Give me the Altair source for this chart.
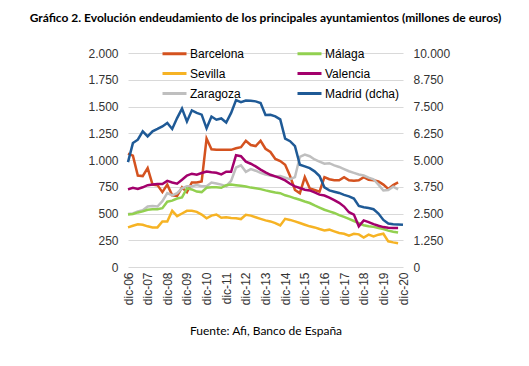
import json
import altair as alt
import pandas as pd

# Quarterly data, dic-06 (index 0) onwards
tick_labels = ["dic-06", "dic-07", "dic-08", "dic-09", "dic-10", "dic-11", "dic-12", "dic-13",
               "dic-14", "dic-15", "dic-16", "dic-17", "dic-18", "dic-19", "dic-20"]

barcelona = [1060, 1040, 855, 850, 925, 770, 765, 700, 770, 670,
             665, 745, 700, 790, 790, 800, 1200, 1100, 1095, 1095,
             1095, 1095, 1110, 1120, 1180, 1140, 1130, 1180, 1105, 1075,
             1010, 990, 955, 850, 720, 690, 840, 735, 720, 705,
             840, 820, 810, 810, 840, 810, 805, 810, 840, 815,
             810, 800, 770, 730, 765, 790]
sevilla = [370, 385, 400, 395, 380, 370, 370, 425, 425, 525,
           475, 500, 525, 525, 515, 490, 455, 480, 490, 460,
           465, 458, 455, 448, 488, 480, 465, 450, 436, 426,
           410, 388, 450, 440, 426, 411, 395, 380, 370, 355,
           342, 349, 333, 318, 311, 293, 311, 305, 275, 302,
           286, 302, 311, 240, 230, 222]
zaragoza = [495, 500, 520, 530, 565, 570, 565, 615, 690, 670,
            690, 735, 755, 755, 765, 755, 755, 790, 780, 770,
            755, 805, 930, 950, 890, 915, 900, 880, 865, 855,
            845, 850, 835, 820, 840, 1030, 1050, 1035, 1005, 985,
            965, 970, 950, 935, 915, 895, 880, 865, 855, 835,
            820, 770, 715, 720, 750, 725]
malaga = [490, 495, 510, 520, 535, 540, 540, 550, 610, 620,
          640, 650, 735, 725, 705, 700, 740, 745, 745, 740,
          765, 770, 765, 760, 753, 742, 735, 728, 716, 706,
          696, 690, 670, 658, 642, 628, 612, 598, 575, 555,
          535, 520, 505, 485, 468, 450, 430, 410, 390, 380,
          375, 365, 355, 340, 330, 322]
valencia = [725, 740, 730, 745, 765, 770, 775, 775, 805, 790,
            778, 815, 855, 872, 862, 878, 893, 885, 880, 865,
            890, 890, 1045, 1035, 985, 965, 940, 910, 885, 862,
            847, 831, 809, 778, 753, 738, 722, 716, 697, 676,
            668, 648, 625, 600, 565, 512, 490, 380, 436, 420,
            400, 385, 373, 366, 364, 364]
madrid = [4900, 5790, 5950, 6340, 6100, 6340, 6450, 6570, 6730, 6450,
          6960, 7400, 6800, 7320, 7200, 7120, 6480, 7030, 6880, 6940,
          6750, 7200, 7800, 7700, 7780, 7770, 7740, 7660, 7100, 7110,
          7040, 6900, 6000, 5880, 5650, 4780, 4700, 4620, 4470, 4250,
          3720, 3580, 3520, 3460, 3370, 3300, 3200, 2850, 2790, 2760,
          2700, 2500, 2200, 2030, 2000, 1990, 1970]

left_names = ["Barcelona", "Sevilla", "Zaragoza", "Málaga", "Valencia"]
left_series = [barcelona, sevilla, zaragoza, malaga, valencia]

rows = []
for name, vals in zip(left_names, left_series):
    for i, v in enumerate(vals):
        rows.append({"q": i, "city": name, "v": v})
left_df = pd.DataFrame(rows)
madrid_df = pd.DataFrame({"q": list(range(len(madrid))), "city": "Madrid (dcha)", "v": madrid})

legend_order = ["Barcelona", "Sevilla", "Zaragoza", "Málaga", "Valencia", "Madrid (dcha)"]
colors = ["#D4521F", "#F6B324", "#BFBFBF", "#92D050", "#A3006C", "#1F5A96"]

label_font = "Liberation Sans"
label_color = "#333333"

color = alt.Color(
    "city:N",
    scale=alt.Scale(domain=legend_order, range=colors),
    legend=alt.Legend(
        title=None, orient="none", legendX=33, legendY=-13, columns=2,
        columnPadding=46, rowPadding=-10, symbolType="stroke", symbolSize=576,
        symbolStrokeWidth=3, labelFont=label_font, labelFontSize=12,
        labelColor="#000000", labelOffset=2, padding=0,
    ),
)

x = alt.X(
    "q:Q",
    scale=alt.Scale(domain=[0, 56], nice=False, zero=False),
    axis=alt.Axis(
        values=list(range(0, 57, 4)),
        labelExpr=json.dumps(tick_labels) + "[datum.value / 4]",
        labelAngle=270, grid=False, domain=False, ticks=False,
        labelFont=label_font, labelFontSize=12, labelColor=label_color,
        labelPadding=5,
        title="Fuente: Afi, Banco de España", titleFont="Lato",
        titleFontSize=12, titleFontWeight="normal", titleColor="#000000",
        titlePadding=21,
    ),
)

fmt = "replace(format(datum.value, ','), ',', '.')"

left = alt.Chart(left_df).mark_line(strokeWidth=2.5).encode(
    x=x,
    y=alt.Y(
        "v:Q",
        scale=alt.Scale(domain=[0, 2000], nice=False),
        axis=alt.Axis(
            values=list(range(0, 2001, 250)), labelExpr=fmt, grid=True,
            gridColor="#D9D9D9", gridWidth=1, domain=False, ticks=False,
            labelFont=label_font, labelFontSize=12, labelColor=label_color,
            labelPadding=10, title=None,
        ),
    ),
    color=color,
)

right = alt.Chart(madrid_df).mark_line(strokeWidth=2.5).encode(
    x=x,
    y=alt.Y(
        "v:Q",
        scale=alt.Scale(domain=[0, 10000], nice=False),
        axis=alt.Axis(
            orient="right", values=list(range(0, 10001, 1250)), labelExpr=fmt,
            grid=False, domain=False, ticks=False,
            labelFont=label_font, labelFontSize=12, labelColor=label_color,
            labelPadding=10, title=None,
        ),
    ),
    color=color,
)

chart = alt.layer(left, right).resolve_scale(y="independent").properties(
    width=275,
    height=214,
    autosize=alt.AutoSizeParams(type="none"),
    padding={"left": 120, "top": 45, "right": 100, "bottom": 95},
    title=alt.TitleParams(
        "Gráfico 2. Evolución endeudamiento de los principales ayuntamientos (millones de euros)",
        font="Lato", fontSize=12, fontWeight="bold", color="#000000",
        anchor="middle", offset=15,
    ),
).configure_view(stroke=None)

chart.save("out.html", embed_options={"renderer": "svg", "actions": False})
